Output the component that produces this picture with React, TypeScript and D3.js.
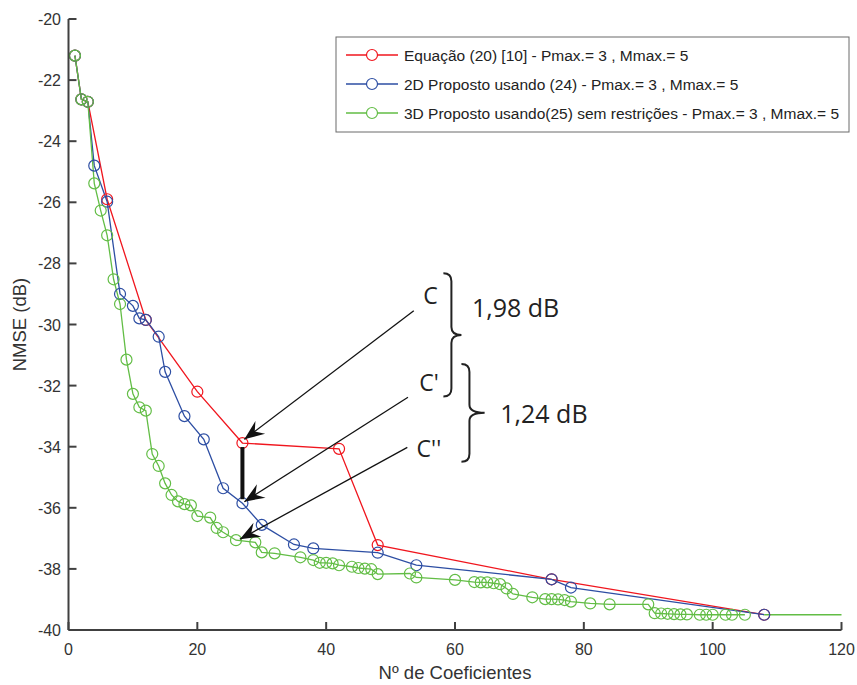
import React from 'react';
import * as d3 from 'd3';

// ---- data ----
const xTicks = [0, 20, 40, 60, 80, 100, 120];
const yTicks = [-20, -22, -24, -26, -28, -30, -32, -34, -36, -38, -40];

const eqX = [1, 2, 3, 6, 12, 20, 27, 42, 48, 75, 108];
const eqY = [-21.2, -22.63, -22.71, -25.9, -29.85, -32.2, -33.88, -34.07, -37.22, -38.34, -39.5];

const p2dX = [1, 2, 3, 4, 6, 8, 10, 11, 12, 14, 15, 18, 21, 24, 27, 30, 35, 38, 48, 54, 75, 78, 108];
const p2dY = [-21.2, -22.63, -22.71, -24.8, -25.98, -29.0, -29.39, -29.8, -29.85, -30.4, -31.55, -33.0, -33.76,
  -35.36, -35.85, -36.56, -37.2, -37.33, -37.47, -37.88, -38.34, -38.61, -39.5];

const p3dX = [1, 2, 3, 4, 5, 6, 7, 8, 9, 10, 11, 12, 13, 14, 15, 16, 17, 18, 19, 20, 22, 23, 24, 26, 29, 30, 32,
  36, 38, 39, 40, 41, 42, 44, 45, 46, 47, 48, 53, 54, 60, 63, 64, 65, 66, 67, 68, 69, 72, 74, 75, 76, 77, 78,
  81, 84, 90, 91, 92, 93, 94, 95, 96, 98, 99, 100, 102, 103, 105];
const p3dY = [-21.2, -22.63, -22.71, -25.38, -26.27, -27.08, -28.52, -29.33, -31.15, -32.27, -32.71, -32.82,
  -34.24, -34.63, -35.2, -35.58, -35.79, -35.88, -35.92, -36.27, -36.32, -36.66, -36.8, -37.06, -37.13, -37.46,
  -37.49, -37.62, -37.71, -37.8, -37.8, -37.82, -37.88, -37.93, -37.97, -37.99, -38.01, -38.17, -38.15, -38.28,
  -38.36, -38.43, -38.44, -38.44, -38.47, -38.5, -38.64, -38.82, -38.93, -38.99, -38.99, -39.0, -39.02, -39.07,
  -39.13, -39.16, -39.16, -39.45, -39.46, -39.47, -39.48, -39.49, -39.49, -39.5, -39.5, -39.5, -39.5, -39.5,
  -39.5];
// line-only continuation of the 3D curve
const p3dTailX = [108, 120];
const p3dTailY = [-39.5, -39.5];

const legendLabels = [
  'Equação (20) [10] - Pmax.= 3 , Mmax.= 5',
  '2D Proposto usando (24) - Pmax.= 3 , Mmax.= 5',
  '3D Proposto usando(25) sem restrições - Pmax.= 3 , Mmax.= 5',
];

// annotation arrows: [tailX, tailY, tipX, tipY] in data units
const arrowData = [
  [53.6, -29.55, 27.3, -33.76],
  [52.7, -32.38, 27.3, -35.8],
  [52.6, -34.02, 26.6, -37.03],
];
const pointLabels = ['C', "C'", "C''"];
const pointLabelPos = [[56.2, -29.03], [55.95, -31.87], [55.95, -34.05]];
// braces: [x, yTop, yBottom, tipX]
const braceData = [
  [58.2, -28.32, -32.36, 61.0],
  [61.0, -31.29, -34.49, 64.6],
];
const braceLabels = ['1,98 dB', '1,24 dB'];
const braceLabelPos = [[69.4, -29.42], [73.8, -32.9]];

const COLORS = ['#f0161e', '#2d4ea3', '#62bd45'];

const W = 857;
const H = 685;

export default function App() {
  const x = d3.scaleLinear().domain([0, 120]).range([68.5, 841.5]);
  const y = d3.scaleLinear().domain([-40, -20]).range([630, 19]);

  const series = [
    { xs: eqX, ys: eqY, color: COLORS[0] },
    { xs: p2dX, ys: p2dY, color: COLORS[1] },
    { xs: p3dX, ys: p3dY, color: COLORS[2] },
  ];

  const line = d3
    .line<[number, number]>()
    .x((d) => x(d[0]))
    .y((d) => y(d[1]));

  const zip = (a: number[], b: number[]) => a.map((v, i) => [v, b[i]] as [number, number]);

  const axisColor = '#404040';
  const textColor = '#333333';
  const tickFont = 'Liberation Sans, Arial, sans-serif';
  const annFont = 'Open Sans, Noto Sans, sans-serif';

  const arrowHead = (x1: number, y1: number, x2: number, y2: number) => {
    const ang = Math.atan2(y2 - y1, x2 - x1);
    const L = 20;
    const Wd = 8;
    const N = 13;
    const pts = [
      [0, 0],
      [-L, -Wd],
      [-N, 0],
      [-L, Wd],
    ].map(([px, py]) => [
      x2 + px * Math.cos(ang) - py * Math.sin(ang),
      y2 + px * Math.sin(ang) + py * Math.cos(ang),
    ]);
    return 'M' + pts.map((p) => p.join(',')).join('L') + 'Z';
  };

  const bracePath = (bx: number, yt: number, yb: number, tip: number) => {
    const x0 = x(bx);
    const x1 = x0 + 8;
    const t = x(tip);
    const y0 = y(yt);
    const y1 = y(yb);
    const ym = (y0 + y1) / 2;
    const r = 8;
    return `M${x0},${y0} Q${x1},${y0} ${x1},${y0 + r} L${x1},${ym - r} Q${x1},${ym} ${t},${ym} Q${x1},${ym} ${x1},${ym + r} L${x1},${y1 - r} Q${x1},${y1} ${x0},${y1}`;
  };

  // vertical gap marker between the red and blue curves at 27 coefficients
  const gapX = 27;
  const gapTop = eqY[eqX.indexOf(gapX)];
  const gapBottom = p2dY[p2dX.indexOf(gapX)];

  const legX = 336;
  const legY = 37;
  const legW = 513;
  const legH = 95;
  const rowY = [55, 84, 113];

  return (
    <svg
      width={W}
      height={H}
      style={{ position: 'absolute', left: 0, top: 0, background: '#fff' }}
      fontFamily={tickFont}
    >
      <rect x={0} y={0} width={W} height={H} fill="#fff" />

      {/* series lines */}
      {series.map((s, i) => (
        <path key={'l' + i} d={line(zip(s.xs, s.ys)) || ''} fill="none" stroke={s.color} strokeWidth={1.3} />
      ))}
      <path d={line(zip(p3dTailX, p3dTailY)) || ''} fill="none" stroke={COLORS[2]} strokeWidth={1.3} />

      {/* markers */}
      {series.map((s, i) =>
        s.xs.map((v, j) => (
          <circle
            key={'m' + i + '-' + j}
            cx={x(v)}
            cy={y(s.ys[j])}
            r={5.5}
            fill="none"
            stroke={s.color}
            strokeWidth={1.2}
          />
        ))
      )}

      {/* gap marker */}
      <line
        x1={x(gapX)}
        x2={x(gapX)}
        y1={y(gapTop) + 4}
        y2={y(gapBottom) - 4}
        stroke="#111"
        strokeWidth={4}
      />

      {/* arrows */}
      {arrowData.map(([a, b, c, d], i) => {
        const x1 = x(a);
        const y1 = y(b);
        const x2 = x(c);
        const y2 = y(d);
        return (
          <g key={'a' + i}>
            <line x1={x1} y1={y1} x2={x2} y2={y2} stroke="#111" strokeWidth={1.3} />
            <path d={arrowHead(x1, y1, x2, y2)} fill="#111" />
          </g>
        );
      })}

      {pointLabels.map((t, i) => (
        <text
          key={'pl' + i}
          x={x(pointLabelPos[i][0])}
          y={y(pointLabelPos[i][1])}
          fontFamily={annFont}
          fontSize={23}
          textAnchor="middle"
          dominantBaseline="central"
          fill="#222"
        >
          {t}
        </text>
      ))}

      {braceData.map(([bx, yt, yb, tip], i) => (
        <path key={'b' + i} d={bracePath(bx, yt, yb, tip)} fill="none" stroke="#222" strokeWidth={2} />
      ))}
      {braceLabels.map((t, i) => (
        <text
          key={'bl' + i}
          x={x(braceLabelPos[i][0])}
          y={y(braceLabelPos[i][1])}
          fontFamily={annFont}
          fontSize={25}
          textAnchor="middle"
          dominantBaseline="central"
          fill="#222"
        >
          {t}
        </text>
      ))}

      {/* axes */}
      <line x1={x(0)} x2={x(120)} y1={y(-40)} y2={y(-40)} stroke={axisColor} strokeWidth={2} />
      <line x1={x(0)} x2={x(0)} y1={y(-40)} y2={y(-20)} stroke={axisColor} strokeWidth={2} />
      {xTicks.map((t) => (
        <g key={'xt' + t}>
          <line x1={x(t)} x2={x(t)} y1={y(-40)} y2={y(-40) - 8} stroke={axisColor} strokeWidth={2} />
          <text x={x(t)} y={655} fontSize={16} textAnchor="middle" fill={textColor}>
            {t}
          </text>
        </g>
      ))}
      {yTicks.map((t) => (
        <g key={'yt' + t}>
          <line x1={x(0)} x2={x(0) + 8} y1={y(t)} y2={y(t)} stroke={axisColor} strokeWidth={2} />
          <text x={61} y={y(t) + 6} fontSize={16} textAnchor="end" fill={textColor}>
            {t}
          </text>
        </g>
      ))}
      <text x={455} y={679} fontSize={18.5} textAnchor="middle" fill={textColor}>
        Nº de Coeficientes
      </text>
      <text
        transform={`translate(26, ${y(-30)}) rotate(-90)`}
        fontSize={18.5}
        textAnchor="middle"
        fill={textColor}
      >
        NMSE (dB)
      </text>

      {/* legend */}
      <rect x={legX} y={legY} width={legW} height={legH} fill="#fff" stroke="#6a6a6a" strokeWidth={1} />
      {legendLabels.map((t, i) => (
        <g key={'lg' + i}>
          <line x1={346} x2={398} y1={rowY[i]} y2={rowY[i]} stroke={COLORS[i]} strokeWidth={1.3} />
          <circle cx={372} cy={rowY[i]} r={5.5} fill="#fff" stroke={COLORS[i]} strokeWidth={1.2} />
          <text x={404} y={rowY[i] + 5.5} fontSize={15.5} fill="#222">
            {t}
          </text>
        </g>
      ))}
    </svg>
  );
}
